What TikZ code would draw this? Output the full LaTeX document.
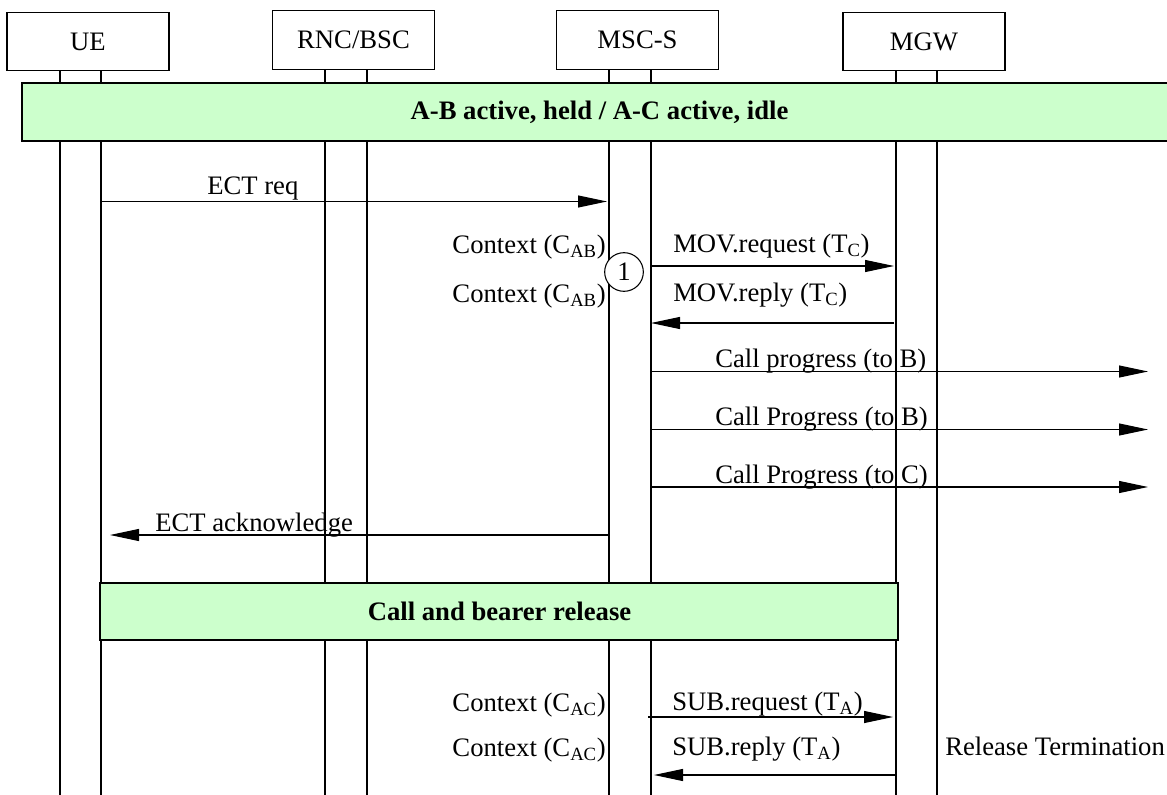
\documentclass[tikz,border=0pt]{standalone}
\usepackage{fontspec}
\setmainfont{Liberation Serif}
\usetikzlibrary{arrows.meta}
\definecolor{bannergreen}{HTML}{CCFFCC}
\newcommand\lsub[1]{\textsubscript{#1}}
\begin{document}
\begin{tikzpicture}[x=0.75pt,y=-0.75pt,
  every node/.style={font=\fontsize{20pt}{24pt}\selectfont, inner sep=0pt},
  entity/.style={draw, line width=0.8pt, minimum width=121.5pt, minimum height=44pt, fill=white},
  banner/.style={draw, line width=0.8pt, fill=bannergreen},
  bannertext/.style={font=\fontsize{20pt}{24pt}\selectfont\bfseries},
  lifeline/.style={line width=0.8pt},
  msg/.style={line width=0.8pt, -{Triangle[length=21.75pt,width=9pt]}},
  lbl/.style={anchor=base west},
  ctx/.style={anchor=base east}]
\clip (0,0) rectangle (1167,795);
\fill[white] (0,0) rectangle (1167,795);
% lifelines
\foreach \n/\x in {ue1/60,ue2/101,rnc1/325,rnc2/367,msc1/609,msc2/651,mgw1/896,mgw2/937}{
  \coordinate (\n top) at (\x,69);
  \coordinate (\n bot) at (\x,800);
  \draw[lifeline] (\n top) -- (\n bot);
}
% entity boxes
\node[entity] (ue)  at (88,41.5)  {UE};
\node[entity] (rnc) at (353.5,40) {RNC/BSC};
\node[entity] (msc) at (637.5,40) {MSC-S};
\node[entity] (mgw) at (924,41.5) {MGW};
% banner 1
\draw[banner] (22,83) rectangle (1180,141);
\node[bannertext] (b1) at (599.5,112) {A-B active, held / A-C active, idle};
% ECT req
\coordinate (ectS) at (101,201.5);
\coordinate (ectE) at (607,201.5);
\draw[msg] (ectS) -- (ectE);
\node[lbl] (ectL) at (207,195) {ECT req};
% MOV
\node[ctx] (c1) at (606,253) {Context (C\lsub{AB})};
\node[ctx] (c2) at (606,302) {Context (C\lsub{AB})};
\node[draw, circle, line width=0.8pt, fill=white, minimum size=29pt] (one) at (624,272) {1};
\coordinate (movS) at (651,266);
\coordinate (movE) at (894,266);
\draw[msg] (movS) -- (movE);
\node[lbl] (movL) at (673,252) {MOV.request (T\lsub{C})};
\coordinate (mrS) at (894,323);
\coordinate (mrE) at (651,323);
\draw[msg] (mrS) -- (mrE);
\node[lbl] (mrL) at (673,301) {MOV.reply (T\lsub{C})};
% call progress
\coordinate (cp1S) at (651,371.5); \coordinate (cp1E) at (1148,371.5);
\draw[msg] (cp1S) -- (cp1E);
\node[lbl] (cp1L) at (715,367) {Call progress (to B)};
\coordinate (cp2S) at (651,429.5); \coordinate (cp2E) at (1148,429.5);
\draw[msg] (cp2S) -- (cp2E);
\node[lbl] (cp2L) at (715,425) {Call Progress (to B)};
\coordinate (cp3S) at (651,487); \coordinate (cp3E) at (1148,487);
\draw[msg] (cp3S) -- (cp3E);
\node[lbl] (cp3L) at (715,483) {Call Progress (to C)};
% ECT acknowledge
\coordinate (ackS) at (609,535); \coordinate (ackE) at (110,535);
\draw[msg] (ackS) -- (ackE);
\node[lbl] (ackL) at (155,531) {ECT acknowledge};
% banner 2
\draw[banner] (100,583) rectangle (898,640);
\node[bannertext] (b2) at (499.5,611.5) {Call and bearer release};
% SUB
\node[ctx] (c3) at (606,711) {Context (C\lsub{AC})};
\node[ctx] (c4) at (606,756) {Context (C\lsub{AC})};
\coordinate (subS) at (648,717); \coordinate (subE) at (893,717);
\draw[msg] (subS) -- (subE);
\node[lbl] (subL) at (672,710) {SUB.request (T\lsub{A})};
\coordinate (srS) at (896,775); \coordinate (srE) at (654,775);
\draw[msg] (srS) -- (srE);
\node[lbl] (srL) at (672,755) {SUB.reply (T\lsub{A})};
\node[lbl] (rel) at (945,755) {Release Termination};
\end{tikzpicture}
\end{document}
